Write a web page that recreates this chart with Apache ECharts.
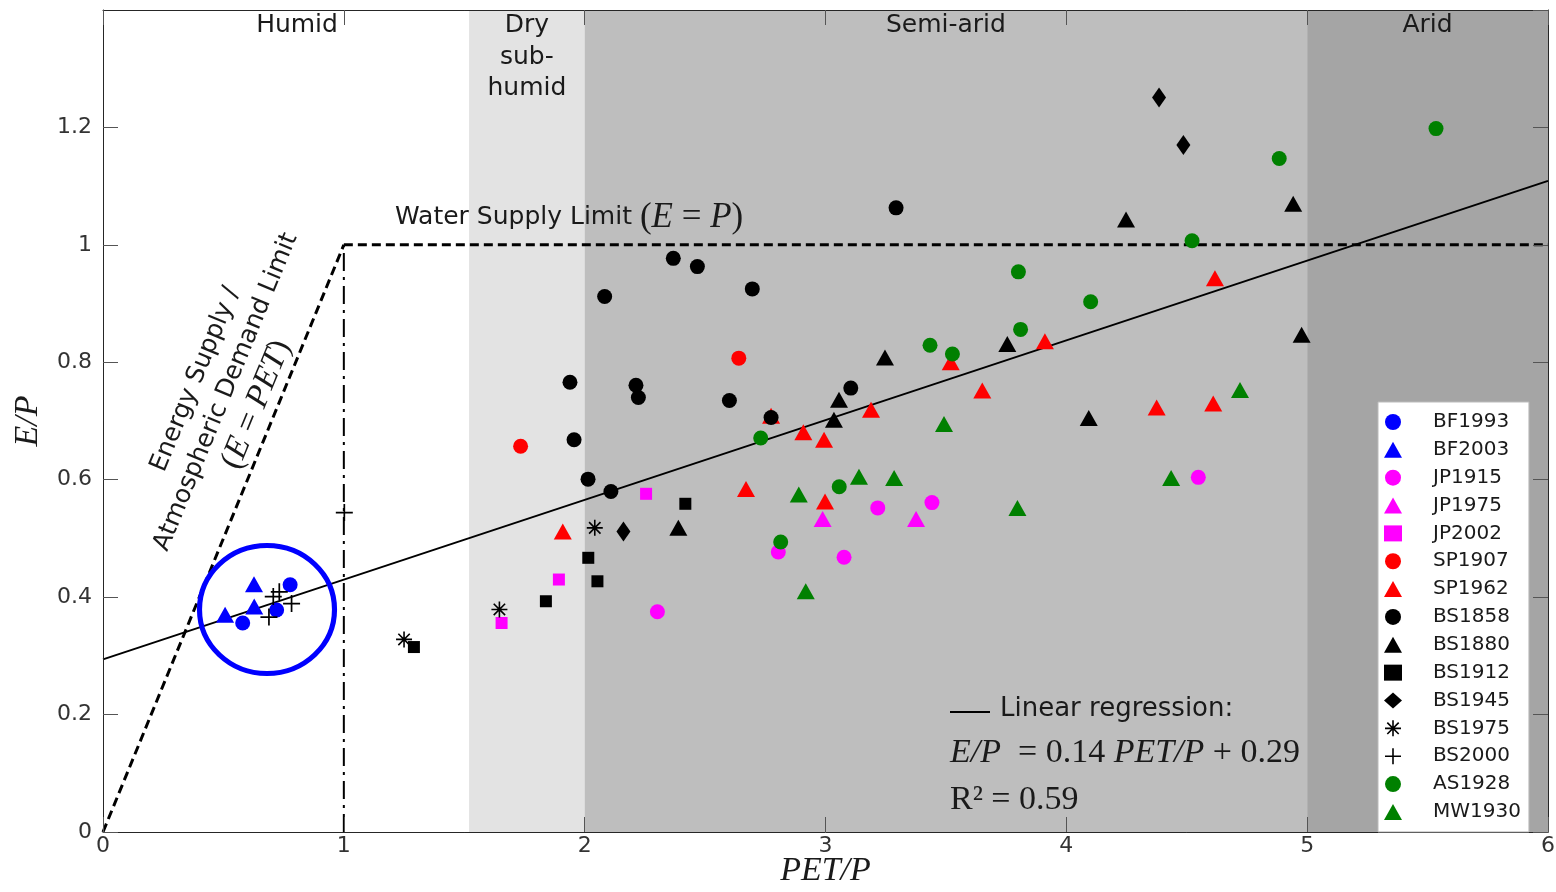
<!DOCTYPE html>
<html>
<head>
<meta charset="utf-8">
<script src="https://cdn.jsdelivr.net/npm/echarts@6/dist/echarts.min.js"></script>
<style>
  html, body { margin: 0; padding: 0; background: #fff; }
  #chart { width: 1556px; height: 892px; }
</style>
</head>
<body>
<div id="chart"></div>
<script>
// aridity zones (PET/P edges) and labels
const zoneEdges = [0, 1.52, 2, 5, 6];
const zoneNames = ["Humid", "Dry\nsub-\nhumid", "Semi-arid", "Arid"];
const zoneColors = ["rgba(255,255,255,0)", "#e3e3e3", "#bebebe", "#a5a5a5"];

// limits and regression
const energyLimit = [[0, 0], [1, 1]];
const waterLimit = [[1, 1], [6, 1]];
const humidEdge = [[1, 0], [1, 1]];
const regression = [[0, 0.294], [6, 1.109]];
const ringCentre = [[0.681, 0.379]];

// observations [PET/P, E/P]
const BF1993 = [[0.777, 0.421], [0.721, 0.378], [0.58, 0.356]];
const BF2003 = [[0.627, 0.422], [0.628, 0.384], [0.507, 0.37]];
const JP1915 = [[2.302, 0.375], [2.804, 0.477], [3.077, 0.468], [3.217, 0.552], [3.442, 0.561], [4.548, 0.604]];
const JP1975 = [[2.988, 0.533], [3.376, 0.533]];
const JP2002 = [[1.655, 0.356], [1.893, 0.43], [2.255, 0.576]];
const SP1907 = [[1.734, 0.657], [2.64, 0.807]];
const SP1962 = [[1.909, 0.512], [2.67, 0.584], [2.774, 0.709], [2.908, 0.681], [2.994, 0.668], [2.998, 0.563],
  [3.189, 0.719], [3.52, 0.8], [3.651, 0.752], [3.911, 0.836], [4.375, 0.723], [4.61, 0.73], [4.617, 0.943]];
const BS1858 = [[1.939, 0.766], [1.956, 0.668], [2.014, 0.601], [2.083, 0.912], [2.109, 0.58], [2.213, 0.761],
  [2.223, 0.74], [2.368, 0.977], [2.468, 0.963], [2.601, 0.735], [2.696, 0.925], [2.774, 0.706], [3.105, 0.756], [3.293, 1.063]];
const BS1880 = [[2.389, 0.518], [3.035, 0.702], [3.056, 0.736], [3.247, 0.808], [3.755, 0.831], [4.093, 0.705],
  [4.248, 1.043], [4.942, 1.07], [4.977, 0.847]];
const BS1912 = [[1.291, 0.315], [1.839, 0.393], [2.015, 0.467], [2.053, 0.427], [2.418, 0.559]];
const BS1945 = [[2.161, 0.512], [4.385, 1.251], [4.486, 1.17]];
const BS1975 = [[1.25, 0.328], [1.646, 0.379], [2.042, 0.518]];
const BS2000 = [[0.707, 0.401], [0.732, 0.409], [0.783, 0.389], [0.689, 0.366], [1.002, 0.544]];
const AS1928 = [[2.731, 0.671], [2.814, 0.494], [3.057, 0.588], [3.434, 0.829], [3.527, 0.814], [3.801, 0.954],
  [3.81, 0.856], [4.101, 0.903], [4.522, 1.007], [4.884, 1.147], [5.535, 1.198]];
const MW1930 = [[2.889, 0.575], [2.918, 0.41], [3.139, 0.605], [3.285, 0.603], [3.492, 0.695], [3.797, 0.552],
  [4.435, 0.603], [4.721, 0.753]];

const plusPath = "path://M0,7.2H16V8.8H0Z M7.2,0H8.8V16H7.2Z";
const starPath = "path://M0,7.2H16V8.8H0Z M7.2,0H8.8V16H7.2Z M2.87,1.73L14.27,13.13L13.13,14.27L1.73,2.87Z M1.73,13.13L13.13,1.73L14.27,2.87L2.87,14.27Z";

const blue = "#0000ff", magenta = "#ff00ff", red = "#ff0000", black = "#000000", green = "#008000";

const groups = [
  { name: "BF1993", data: BF1993, symbol: "circle", size: 15, color: blue },
  { name: "BF2003", data: BF2003, symbol: "triangle", size: [18, 16], color: blue },
  { name: "JP1915", data: JP1915, symbol: "circle", size: 15, color: magenta },
  { name: "JP1975", data: JP1975, symbol: "triangle", size: [18, 16], color: magenta },
  { name: "JP2002", data: JP2002, symbol: "rect", size: 12, color: magenta },
  { name: "SP1907", data: SP1907, symbol: "circle", size: 15, color: red },
  { name: "SP1962", data: SP1962, symbol: "triangle", size: [18, 16], color: red },
  { name: "BS1858", data: BS1858, symbol: "circle", size: 15, color: black },
  { name: "BS1880", data: BS1880, symbol: "triangle", size: [18, 16], color: black },
  { name: "BS1912", data: BS1912, symbol: "rect", size: 12, color: black },
  { name: "BS1945", data: BS1945, symbol: "diamond", size: [14, 20], color: black },
  { name: "BS1975", data: BS1975, symbol: starPath, size: 16, color: black },
  { name: "BS2000", data: BS2000, symbol: plusPath, size: 17, color: black },
  { name: "AS1928", data: AS1928, symbol: "circle", size: 15, color: green },
  { name: "MW1930", data: MW1930, symbol: "triangle", size: [18, 16], color: green },
];

const sans = "DejaVu Sans";
const serif = "Liberation Serif";
const txt = "#1a1a1a";

const chart = echarts.init(document.getElementById("chart"));

const zoneAreas = zoneNames.map((n, i) => [
  {
    name: n,
    xAxis: zoneEdges[i],
    itemStyle: { color: zoneColors[i] },
    label: { offset: i === 0 ? [11, 0] : [0, 0] },
  },
  { xAxis: zoneEdges[i + 1] },
]);

const lineSeries = (data, type, width) => ({
  type: "line",
  data: data,
  symbol: "none",
  silent: true,
  z: 2,
  lineStyle: { color: black, width: width, type: type },
});

const series = [
  {
    type: "scatter",
    data: [],
    silent: true,
    z: 1,
    markArea: {
      silent: true,
      data: zoneAreas,
      label: {
        show: true,
        position: "insideTop",
        distance: 0,
        color: txt,
        fontFamily: sans,
        fontSize: 25,
        lineHeight: 31.5,
      },
    },
  },
  lineSeries(energyLimit, [9, 5], 3),
  lineSeries(waterLimit, [9, 5], 3),
  lineSeries(humidEdge, [18, 6, 3, 6], 2),
  lineSeries(regression, "solid", 2),
  {
    type: "scatter",
    data: ringCentre,
    symbol: "circle",
    symbolSize: [135, 128],
    silent: true,
    z: 2,
    itemStyle: { color: "rgba(0,0,0,0)", borderColor: blue, borderWidth: 5, opacity: 1 },
  },
];

groups.forEach((g, i) => {
  series.push({
    type: "scatter",
    name: g.name,
    data: g.data,
    symbol: g.symbol,
    symbolSize: g.size,
    z: 3 + i,
    itemStyle: { color: g.color, opacity: 1 },
  });
});

const axisCommon = {
  type: "value",
  z: 50,
  axisLine: { show: true, onZero: false, lineStyle: { color: "#262626", width: 1 } },
  axisTick: { show: true, inside: true, length: 15, lineStyle: { color: "#555", width: 1 } },
  splitLine: { show: false },
};

const option = {
  animation: false,
  backgroundColor: "#ffffff",
  grid: { left: 103, right: 8, top: 10, bottom: 60, containLabel: false, outerBoundsMode: "none" },
  xAxis: [
    Object.assign({}, axisCommon, {
      min: 0, max: 6, interval: 1,
      name: "PET/P",
      nameLocation: "middle",
      nameGap: 22,
      nameMoveOverlap: false,
      nameTextStyle: { fontFamily: serif, fontStyle: "italic", fontSize: 34, color: txt },
      axisLabel: { color: "#333", fontFamily: sans, fontSize: 22, margin: 3 },
    }),
    Object.assign({}, axisCommon, {
      min: 0, max: 6, interval: 1, position: "top",
      axisLabel: { show: false },
    }),
  ],
  yAxis: [
    Object.assign({}, axisCommon, {
      min: 0, max: 1.4, interval: 0.2,
      name: "E/P",
      nameLocation: "middle",
      nameGap: 58,
      nameRotate: 90,
      nameMoveOverlap: false,
      nameTextStyle: { fontFamily: serif, fontStyle: "italic", fontSize: 34, color: txt },
      axisLabel: { color: "#333", fontFamily: sans, fontSize: 22, margin: 11, showMaxLabel: false },
    }),
    Object.assign({}, axisCommon, {
      min: 0, max: 1.4, interval: 0.2, position: "right",
      axisLabel: { show: false },
    }),
  ],
  legend: {
    orient: "vertical",
    left: 1378,
    top: 402,
    z: 60,
    data: groups.map((g) => g.name),
    itemWidth: 18,
    itemHeight: 16,
    itemGap: 7.85,
    padding: [10, 8, 10, 6],
    backgroundColor: "#ffffff",
    borderColor: "#bbbbbb",
    borderWidth: 1,
    borderRadius: 0,
    selectedMode: false,
    textStyle: { fontFamily: sans, fontSize: 20, color: txt, padding: [0, 0, 0, 26] },
  },
  graphic: {
    z: 100,
    elements: [
      {
        type: "text",
        left: 395,
        top: 200,
        z: 100,
        style: {
          text: "{s|Water Supply Limit }{m|(}{i|E}{m| = }{i|P}{m|)}",
          rich: {
            s: { fontFamily: sans, fontSize: 25, fill: txt },
            m: { fontFamily: serif, fontSize: 35, fill: txt },
            i: { fontFamily: serif, fontStyle: "italic", fontSize: 35, fill: txt },
          },
        },
      },
      {
        type: "text",
        x: 226,
        y: 392,
        z: 100,
        rotation: 1.18,
        style: {
          text: "{s|Energy Supply /}\n{s|Atmospheric Demand Limit}\n{m|(}{i|E}{m| = }{i|PET}{m|)}",
          align: "center",
          verticalAlign: "middle",
          rich: {
            s: { fontFamily: sans, fontSize: 25, fill: txt, lineHeight: 33 },
            m: { fontFamily: serif, fontSize: 33, fill: txt, lineHeight: 33 },
            i: { fontFamily: serif, fontStyle: "italic", fontSize: 33, fill: txt, lineHeight: 33 },
          },
        },
      },
      {
        type: "line",
        z: 100,
        shape: { x1: 950, y1: 712, x2: 990, y2: 712 },
        style: { stroke: black, lineWidth: 2 },
      },
      {
        type: "text",
        left: 1000,
        top: 696,
        z: 100,
        style: { text: "Linear regression:", fontFamily: sans, fontSize: 26, fill: txt },
      },
      {
        type: "text",
        left: 950,
        top: 736,
        z: 100,
        style: {
          text: "{i|E/P}{m|  = 0.14 }{i|PET/P}{m| + 0.29}",
          rich: {
            m: { fontFamily: serif, fontSize: 34, fill: txt },
            i: { fontFamily: serif, fontStyle: "italic", fontSize: 34, fill: txt },
          },
        },
      },
      {
        type: "text",
        left: 950,
        top: 783,
        z: 100,
        style: { text: "R\u00b2 = 0.59", fontFamily: serif, fontSize: 34, fill: txt },
      },
    ],
  },
  series: series,
};

chart.setOption(option);
</script>
</body>
</html>
